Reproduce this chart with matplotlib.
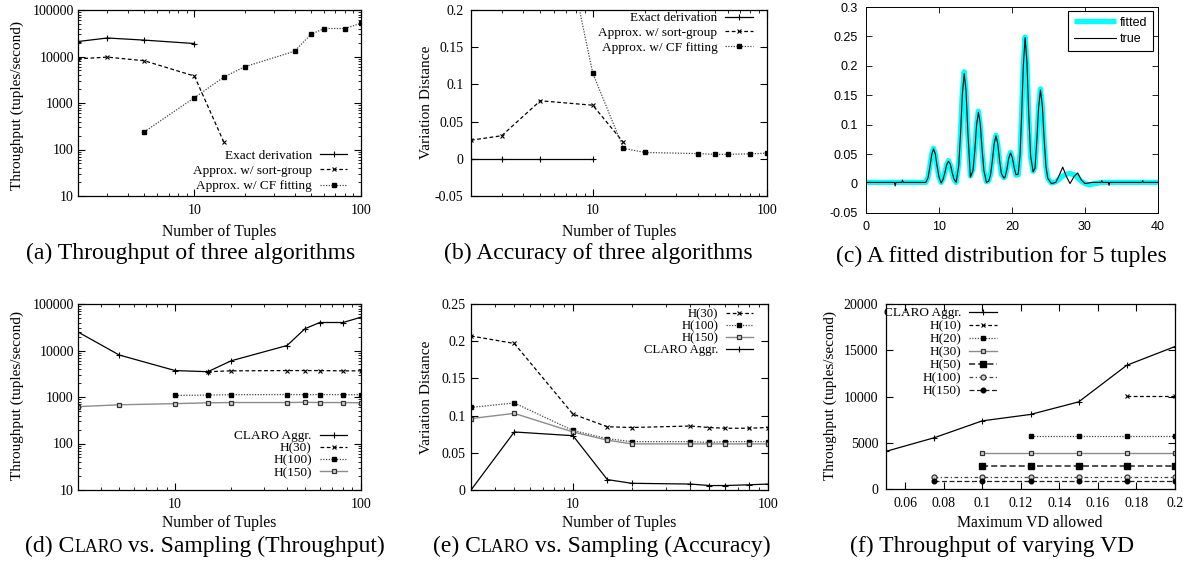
import matplotlib
matplotlib.use("Agg")
import matplotlib.pyplot as plt
from matplotlib.ticker import FuncFormatter, NullFormatter, LogLocator
from matplotlib.offsetbox import TextArea, HPacker, AnnotationBbox

plt.rcParams["font.family"] = ["Liberation Serif", "DejaVu Serif"]
plt.rcParams["axes.linewidth"] = 0.9

W, H = 1191, 562
SERIF = "Liberation Serif"
SANS = "Liberation Sans"

# (a) throughput of three algorithms
exact_x = [2, 3, 5, 10]
exact_thr = [21000, 25000, 22500, 19000]
sort_x = [2, 3, 5, 10, 15]
sort_thr = [8900, 9700, 8100, 3800, 145]
cf_x = [5, 10, 15, 20, 40, 50, 60, 80, 100]
cf_thr = [240, 1300, 3600, 6000, 13000, 30000, 40000, 40000, 52000]

# (b) accuracy of three algorithms
exact_vd = [0, 0, 0, 0]
sort_vd = [0.025, 0.031, 0.078, 0.072, 0.022]
cf_vd = [0.45, 0.115, 0.014, 0.0085, 0.007, 0.006, 0.006, 0.0067, 0.0076]

# (c) fitted vs true distribution for 5 tuples
c_x = [0, 2, 3.9, 4.0, 4.1, 4.9, 5.0, 5.1, 7.0, 8.2,
       8.5, 8.75, 9.0, 9.25, 9.5, 9.75, 10.0, 10.3, 10.55, 10.8,
       11.05, 11.3, 11.55, 11.8, 12.05, 12.35, 12.7, 12.95, 13.2, 13.45,
       13.7, 13.95, 14.3, 14.65, 14.9, 15.15, 15.4, 15.65, 15.9, 16.15,
       16.5, 16.8, 17.05, 17.3, 17.55, 17.8, 18.05, 18.3, 18.55, 18.9,
       19.05, 19.3, 19.55, 19.8, 20.05, 20.3, 20.55, 20.85, 21.1, 21.3,
       21.55, 21.8, 22.05, 22.3, 22.55, 22.9, 23.15, 23.4, 23.65, 23.9,
       24.15, 24.4, 24.65, 24.9, 25.4, 26.0, 26.5, 26.95, 27.45, 27.95,
       28.5, 29.0, 29.5, 30.0, 30.5, 31.0, 32.2, 32.3, 32.4, 33.2,
       33.3, 33.4, 37.8, 37.9, 38.0, 40.0]
fitted_y = [0.002, 0.002, 0.002, 0.002, 0.002, 0.002, 0.002, 0.002, 0.002, 0.002,
            0.011, 0.029, 0.050, 0.060, 0.049, 0.028, 0.011, 0.002, 0.008, 0.019,
            0.032, 0.039, 0.032, 0.018, 0.007, 0.002, 0.033, 0.088, 0.155, 0.190,
            0.155, 0.086, 0.013, 0.024, 0.057, 0.101, 0.123, 0.100, 0.056, 0.021,
            0.003, 0.005, 0.015, 0.039, 0.068, 0.082, 0.067, 0.038, 0.016, 0.010,
            0.012, 0.025, 0.044, 0.053, 0.043, 0.026, 0.014, 0.015, 0.050, 0.112,
            0.202, 0.249, 0.203, 0.114, 0.045, 0.021, 0.028, 0.075, 0.132, 0.161,
            0.131, 0.074, 0.028, 0.009, 0.001, 0.003, 0.008, 0.013, 0.016, 0.017,
            0.015, 0.010, 0.004, 0.000, -0.002, -0.001, 0.002, 0.002, 0.002, 0.002,
            0.002, 0.002, 0.002, 0.002, 0.002, 0.002]
true_y = [0.002, 0.002, 0.002, -0.004, 0.002, 0.002, 0.006, 0.002, 0.002, 0.002,
          0.010, 0.028, 0.049, 0.059, 0.050, 0.029, 0.011, 0.001, 0.007, 0.018,
          0.032, 0.038, 0.033, 0.019, 0.008, 0.002, 0.030, 0.085, 0.152, 0.187,
          0.158, 0.088, 0.011, 0.022, 0.055, 0.100, 0.121, 0.102, 0.058, 0.022,
          0.002, 0.004, 0.014, 0.038, 0.067, 0.081, 0.068, 0.039, 0.017, 0.009,
          0.011, 0.024, 0.043, 0.052, 0.044, 0.027, 0.015, 0.016, 0.048, 0.110,
          0.200, 0.248, 0.205, 0.116, 0.047, 0.020, 0.026, 0.073, 0.130, 0.159,
          0.133, 0.076, 0.029, 0.009, 0.000, 0.002, 0.015, 0.028, 0.012, 0.000,
          0.012, 0.018, 0.006, 0.000, 0.001, 0.002, 0.002, 0.005, 0.002, 0.002,
          -0.003, 0.002, 0.002, 0.005, 0.002, 0.002]

# (d) CLARO vs sampling, throughput
claro_x = [3, 5, 10, 15, 20, 40, 50, 60, 80, 100]
claro_thr = [25000, 8000, 3700, 3500, 6000, 12800, 29500, 40000, 40000, 52000]
h30_x = [15, 20, 40, 50, 60, 80, 100]
h30_thr = [3500, 3650, 3700, 3700, 3700, 3650, 3650]
h100_x = [10, 15, 20, 40, 50, 60, 80, 100]
h100_thr = [1080, 1100, 1120, 1130, 1120, 1130, 1120, 1120]
h150_x = [3, 5, 10, 15, 20, 40, 50, 60, 80, 100]
h150_thr = [620, 680, 720, 750, 760, 760, 770, 760, 760, 750]

# (e) CLARO vs sampling, accuracy
acc_x = [3, 5, 10, 15, 20, 40, 50, 60, 80, 100]
h30_vd = [0.207, 0.197, 0.102, 0.085, 0.084, 0.086, 0.084, 0.083, 0.083, 0.084]
h100_vd = [0.111, 0.117, 0.080, 0.069, 0.065, 0.065, 0.064, 0.065, 0.065, 0.065]
h150_vd = [0.096, 0.103, 0.078, 0.067, 0.062, 0.062, 0.062, 0.062, 0.062, 0.062]
claro_vd = [0.0, 0.078, 0.073, 0.014, 0.009, 0.008, 0.006, 0.006, 0.007, 0.008]

# (f) throughput of varying VD
vd_claro = [0.05, 0.075, 0.1, 0.125, 0.15, 0.175, 0.2]
f_claro = [4070, 5540, 7370, 8060, 9420, 13380, 15400]
vd_h10 = [0.175, 0.2]
f_h10 = [10100, 10100]
vd_h20 = [0.125, 0.15, 0.175, 0.2]
f_h20 = [5720, 5720, 5720, 5720]
vd_h30 = [0.1, 0.125, 0.15, 0.175, 0.2]
f_h30 = [3920, 3920, 3920, 3920, 3920]
vd_h50 = [0.1, 0.125, 0.15, 0.175, 0.2]
f_h50 = [2450, 2450, 2450, 2450, 2450]
vd_h100 = [0.075, 0.1, 0.125, 0.15, 0.175, 0.2]
f_h100 = [1300, 1300, 1300, 1300, 1300, 1300]
vd_h150 = [0.075, 0.1, 0.125, 0.15, 0.175, 0.2]
f_h150 = [830, 830, 830, 830, 830, 830]

fig = plt.figure(figsize=(W / 100, H / 100), dpi=100)


def box(l, t, r, b):
    return [l / W, 1 - b / H, (r - l) / W, (b - t) / H]


def ftext(x, y, s, **kw):
    fig.text(x / W, 1 - y / H, s, ha="center", va="center", **kw)


num = FuncFormatter(lambda v, _: f"{round(v, 4) + 0:g}")

SOLID = dict(color="black", lw=0.9, ls="-", marker="+", ms=5, mew=0.8)
DASHED = dict(color="black", lw=0.9, ls=(0, (3, 2)), marker="x", ms=3.5, mew=0.8)
DOTTED = dict(color="#444444", lw=0.9, ls=(0, (1, 1.2)), marker="s", ms=3, mfc="black", mec="black")
GRAYSQ = dict(color="#8c8c8c", lw=1.0, ls="-", marker="s", ms=3.4, mfc="#d0d0d0", mec="#333333", mew=0.9)


def gp_axes(rect, logx=True, logy=False, ypad=3):
    ax = fig.add_axes(box(*rect))
    if logx:
        ax.set_xscale("log")
        ax.xaxis.set_minor_locator(LogLocator(base=10, subs=range(2, 10), numticks=50))
        ax.xaxis.set_minor_formatter(NullFormatter())
        ax.xaxis.set_major_formatter(FuncFormatter(lambda v, _: f"{v:g}"))
    if logy:
        ax.set_yscale("log")
        ax.yaxis.set_minor_locator(LogLocator(base=10, subs=range(2, 10), numticks=50))
        ax.yaxis.set_minor_formatter(NullFormatter())
        ax.yaxis.set_major_formatter(FuncFormatter(lambda v, _: f"{v:g}"))
    ax.tick_params(which="both", direction="in", top=True, right=True, labelsize=10)
    ax.tick_params(which="major", length=5, width=0.8)
    ax.tick_params(which="minor", length=2.5, width=0.6)
    ax.tick_params(axis="x", pad=6)
    ax.tick_params(axis="y", pad=ypad)
    return ax


def gp_legend(ax, loc, anchor, spacing, handles=None, size=9.5):
    kw = dict(loc=loc, bbox_to_anchor=anchor, markerfirst=False, frameon=False,
              fontsize=size, handlelength=2.1, handletextpad=0.6,
              labelspacing=spacing, borderpad=0, borderaxespad=0)
    if handles is not None:
        kw["handles"] = handles
    ax.legend(**kw)


# ---- (a)
ax = gp_axes((78, 10, 361, 196), logy=True, ypad=3)
ax.plot(exact_x, exact_thr, label="Exact derivation", **SOLID)
ax.plot(sort_x, sort_thr, label="Approx. w/ sort-group", **DASHED)
ax.plot(cf_x, cf_thr, label="Approx. w/ CF fitting", **DOTTED)
ax.set_xlim(2, 100)
ax.set_ylim(10, 100000)
gp_legend(ax, "lower right", (0.952, 0.02), 0.23)

# ---- (b)
ax = gp_axes((471, 10, 767, 196), ypad=5.5)
ax.plot(exact_x, exact_vd, label="Exact derivation", **SOLID)
ax.plot(sort_x, sort_vd, label="Approx. w/ sort-group", **DASHED)
ax.plot(cf_x, cf_vd, label="Approx. w/ CF fitting", **DOTTED)
ax.set_xlim(2, 100)
ax.set_ylim(-0.05, 0.2)
ax.set_yticks([-0.05, 0, 0.05, 0.1, 0.15, 0.2])
ax.yaxis.set_major_formatter(num)
gp_legend(ax, "upper right", (0.953, 0.989), 0.19)

# ---- (c) matlab style
ax = fig.add_axes(box(866, 7, 1158, 213))
ax.plot(c_x, fitted_y, color="#00ffff", lw=3.8, label="fitted", solid_capstyle="butt")
ax.plot(c_x, true_y, color="black", lw=0.8, label="true")
ax.set_xlim(0, 40)
ax.set_ylim(-0.05, 0.3)
ax.set_xticks([0, 10, 20, 30, 40])
ax.set_yticks([-0.05, 0, 0.05, 0.1, 0.15, 0.2, 0.25, 0.3])
ax.xaxis.set_major_formatter(num)
ax.yaxis.set_major_formatter(num)
ax.tick_params(direction="in", top=True, right=True, length=4, width=0.6, pad=6)
for lab in ax.get_xticklabels() + ax.get_yticklabels():
    lab.set_fontfamily(SANS)
    lab.set_fontsize(9)
for s in ax.spines.values():
    s.set_linewidth(0.7)
leg = ax.legend(loc="upper right", bbox_to_anchor=(0.983, 0.981), borderaxespad=0,
                fancybox=False, edgecolor="black", framealpha=1,
                prop=dict(family=SANS, size=9), handlelength=3.4, handletextpad=0.3,
                labelspacing=0.35, borderpad=0.45)
leg.get_frame().set_linewidth(0.8)

# ---- (d)
ax = gp_axes((78, 304, 361, 490), logy=True, ypad=3)
ax.plot(claro_x, claro_thr, label="CLARO Aggr.", **SOLID)
ax.plot(h30_x, h30_thr, label="H(30)", **DASHED)
ax.plot(h100_x, h100_thr, label="H(100)", **DOTTED)
ax.plot(h150_x, h150_thr, label="H(150)", **GRAYSQ)
ax.set_xlim(3, 100)
ax.set_ylim(10, 100000)
gp_legend(ax, "lower right", (0.952, 0.06), 0.0)

# ---- (e)
ax = gp_axes((471, 304, 768, 490), ypad=4)
l30, = ax.plot(acc_x, h30_vd, label="H(30)", **DASHED)
l100, = ax.plot(acc_x, h100_vd, label="H(100)", **DOTTED)
l150, = ax.plot(acc_x, h150_vd, label="H(150)", **GRAYSQ)
lcl, = ax.plot(acc_x, claro_vd, label="CLARO Aggr.", **SOLID)
ax.set_xlim(3, 100)
ax.set_ylim(0, 0.25)
ax.set_yticks([0, 0.05, 0.1, 0.15, 0.2, 0.25])
ax.yaxis.set_major_formatter(num)
gp_legend(ax, "upper right", (0.949, 0.978), 0.0, handles=[l30, l100, l150, lcl], size=9.2)

# ---- (f)
ax = gp_axes((886, 304, 1175, 489), logx=False, ypad=5.5)
ax.plot(vd_claro, f_claro, label="CLARO Aggr.", **SOLID)
ax.plot(vd_h10, f_h10, label="H(10)", **DASHED)
ax.plot(vd_h20, f_h20, label="H(20)", color="#444444", lw=0.9, ls=(0, (1, 1.2)),
        marker="s", ms=2.8, mfc="black", mec="black")
ax.plot(vd_h30, f_h30, label="H(30)", **GRAYSQ)
ax.plot(vd_h50, f_h50, label="H(50)", color="#222222", lw=1.1, ls=(0, (4, 2)),
        marker="s", ms=4.2, mfc="black", mec="black")
ax.plot(vd_h100, f_h100, label="H(100)", color="#444444", lw=0.9, ls=(0, (3, 2, 1, 2)),
        marker="o", ms=3.6, mfc="#d0d0d0", mec="#333333", mew=0.9)
ax.plot(vd_h150, f_h150, label="H(150)", color="#222222", lw=0.9, ls=(0, (4, 2)),
        marker="o", ms=3.3, mfc="black", mec="black")
ax.set_xlim(0.05, 0.2)
ax.set_ylim(0, 20000)
ax.set_xticks([0.06, 0.08, 0.1, 0.12, 0.14, 0.16, 0.18, 0.2])
ax.set_yticks([0, 5000, 10000, 15000, 20000])
ax.xaxis.set_major_formatter(num)
gp_legend(ax, "upper right", (0.384, 0.984), 0.06)

# axis labels
ylab = "Throughput (tuples/second)"
XL = 11.3
ftext(17, 105, ylab, rotation=90, fontsize=11)
ftext(427, 102, "Variation Distance", rotation=90, fontsize=11)
ftext(17, 396, ylab, rotation=90, fontsize=11)
ftext(427, 397, "Variation Distance", rotation=90, fontsize=11)
ftext(830, 396, ylab, rotation=90, fontsize=11)
ftext(219, 232, "Number of Tuples", fontsize=XL)
ftext(619, 232, "Number of Tuples", fontsize=XL)
ftext(219, 523, "Number of Tuples", fontsize=XL)
ftext(619, 523, "Number of Tuples", fontsize=XL)
ftext(1030, 523, "Maximum VD allowed", fontsize=XL)

# captions
CAP = 17
ftext(191, 253, "(a) Throughput of three algorithms", fontsize=CAP)
ftext(598, 253, "(b) Accuracy of three algorithms", fontsize=CAP)
ftext(1001, 256, "(c) A fitted distribution for 5 tuples", fontsize=CAP)
ftext(992, 546, "(f) Throughput of varying VD", fontsize=CAP)


def smallcaps_caption(x, y, parts):
    areas = [TextArea(s, textprops=dict(fontsize=fs, family=SERIF)) for s, fs in parts]
    pack = HPacker(children=areas, align="baseline", pad=0, sep=0)
    ab = AnnotationBbox(pack, (x / W, 1 - y / H), xycoords="figure fraction",
                        frameon=False, box_alignment=(0.5, 0.5), pad=0)
    fig.add_artist(ab)


smallcaps_caption(205, 546, [("(d) C", CAP), ("LARO", CAP * 0.75), (" vs. Sampling (Throughput)", CAP)])
smallcaps_caption(602, 546, [("(e) C", CAP), ("LARO", CAP * 0.75), (" vs. Sampling (Accuracy)", CAP)])

fig.savefig("out.png", dpi=100)
